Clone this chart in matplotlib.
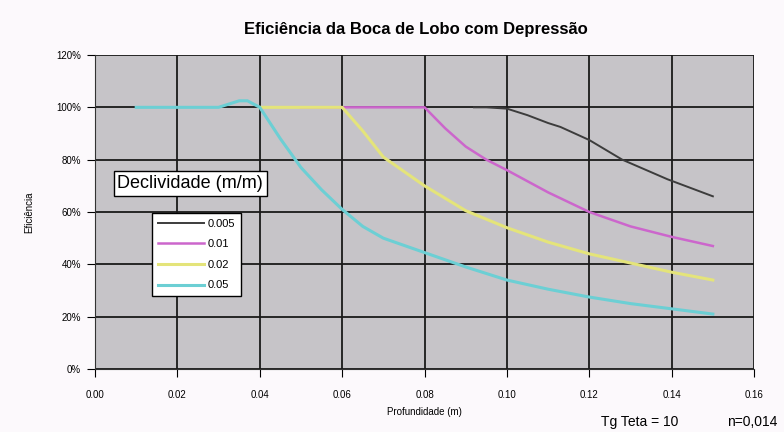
import matplotlib
matplotlib.use("Agg")
import matplotlib.pyplot as plt
from matplotlib.ticker import PercentFormatter

plt.rcParams['font.family'] = ['Liberation Sans', 'DejaVu Sans']

# Declividade 0.005
x_005 = [0.092, 0.095, 0.100, 0.105, 0.110, 0.113, 0.120, 0.128, 0.139, 0.150]
y_005 = [100, 100, 99.5, 97, 94, 92.5, 87.5, 80, 72.5, 66]
# Declividade 0.01
x_01 = [0.050, 0.060, 0.070, 0.080, 0.085, 0.090, 0.095, 0.100, 0.110, 0.120, 0.130, 0.140, 0.150]
y_01 = [100, 100, 100, 100, 92, 85, 80, 76, 67.5, 60, 54.5, 50.5, 47]
# Declividade 0.02
x_02 = [0.040, 0.050, 0.060, 0.065, 0.070, 0.080, 0.090, 0.100, 0.110, 0.120, 0.130, 0.140, 0.150]
y_02 = [100, 100, 100, 91, 81, 70, 60.5, 54, 48.5, 44, 40.5, 37, 34]
# Declividade 0.05
x_05 = [0.010, 0.020, 0.030, 0.035, 0.037, 0.040, 0.045, 0.050, 0.055, 0.060,
        0.065, 0.070, 0.080, 0.090, 0.100, 0.110, 0.120, 0.130, 0.140, 0.150]
y_05 = [100, 100, 100, 102.5, 102.5, 100, 88, 77, 68.5, 61,
        54.5, 50, 44.5, 39, 34, 30.5, 27.5, 25, 23, 21]

series = [
    ("0.005", x_005, y_005, "#3c3c3c", 1.4),
    ("0.01", x_01, y_01, "#cc66cc", 1.8),
    ("0.02", x_02, y_02, "#e4e47a", 2.2),
    ("0.05", x_05, y_05, "#6ccfd4", 2.2),
]

fig = plt.figure(figsize=(7.84, 4.32), dpi=100)
fig.patch.set_facecolor("#fcf9fc")
ax = fig.add_axes([0.1212, 0.1458, 0.8406, 0.7269])
ax.set_facecolor("#c6c4c8")

for label, xs, ys, col, lw in series:
    ax.plot(xs, ys, color=col, linewidth=lw, label=label, zorder=3)

ax.set_xlim(0, 0.16)
ax.set_ylim(0, 120)
ax.set_xticks([0.00, 0.02, 0.04, 0.06, 0.08, 0.10, 0.12, 0.14, 0.16])
ax.set_yticks([0, 20, 40, 60, 80, 100, 120])
ax.xaxis.set_major_formatter(lambda v, p: f"{v:.2f}")
ax.yaxis.set_major_formatter(PercentFormatter(decimals=0))
ax.grid(True, color="#1a1a1a", linewidth=1.3, zorder=1)
ax.set_axisbelow(True)
ax.tick_params(labelsize=7, length=6, direction="out", width=0.8)
ax.tick_params(axis="x", pad=9)
ax.tick_params(axis="y", pad=4)
for s in ["top", "right"]:
    ax.spines[s].set_visible(False)
ax.spines["left"].set_color("#333333")
ax.spines["bottom"].set_color("#333333")

ax.set_xlabel("Profundidade (m)", fontsize=7, labelpad=5)
ax.set_ylabel("Eficiência", fontsize=7, labelpad=16)
fig.suptitle("Eficiência da Boca de Lobo com Depressão", fontsize=12,
             fontweight="bold", x=0.53, y=0.95)

ax.text(0.034, 0.591, "Declividade (m/m)", transform=ax.transAxes, fontsize=13,
        va="center", ha="left", zorder=5,
        bbox=dict(facecolor="white", edgecolor="black", boxstyle="square,pad=0.2", linewidth=1))

leg = ax.legend(loc="lower left", bbox_to_anchor=(0.0865, 0.2325), fontsize=8,
                frameon=True, fancybox=False, handlelength=4.2, handletextpad=0.3,
                borderpad=0.5, labelspacing=0.95, borderaxespad=0)
leg.get_frame().set_edgecolor("black")
leg.get_frame().set_facecolor("white")
leg.get_frame().set_linewidth(1)
leg.get_frame().set_alpha(1)
leg.set_zorder(5)

fig.text(0.816, 0.015, "Tg Teta = 10", fontsize=10, ha="center")
fig.text(0.96, 0.015, "n=0,014", fontsize=10, ha="center")

fig.savefig("out.png", dpi=100, facecolor=fig.get_facecolor())
